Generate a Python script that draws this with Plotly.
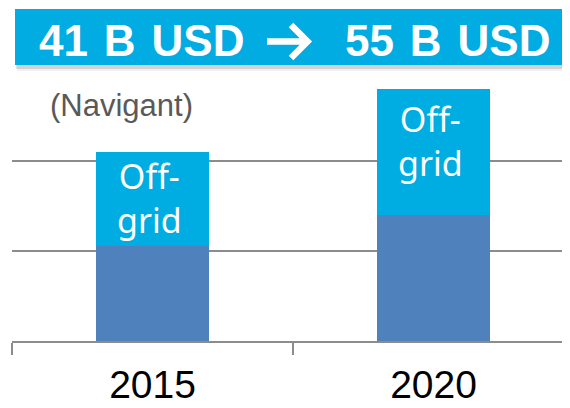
import plotly.graph_objects as go

# ---- data ----
categories = ["2015", "2020"]
grid_connected = [21.1, 28.1]
off_grid = [20.9, 27.8]
off_grid_label = "Off-<br>grid"
banner_left = "41 B USD"
banner_right = "55 B USD"
source_text = "(Navigant)"

W, H = 570, 408
OFF = 8  # page body margin offset of the figure inside the window
ML, MR, MT, MB = 4, 0, 72, 75
PW, PH = W - ML - MR, H - MT - MB


def px(x):  # window pixel -> paper x
    return (x - OFF - ML) / PW


def py(y):  # window pixel -> paper y
    return (H - MB - (y - OFF)) / PH


BLUE_DARK = "#4F81BD"
BLUE_LIGHT = "#00ADE2"
GRID = "#8C8C8C"

fig = go.Figure()
fig.add_trace(go.Bar(
    x=categories, y=grid_connected, marker=dict(color=BLUE_DARK, line=dict(width=0)),
    width=0.4, hoverinfo="skip", showlegend=False,
))
fig.add_trace(go.Bar(
    x=categories, y=off_grid, marker=dict(color=BLUE_LIGHT, line=dict(width=0)),
    width=0.4, hoverinfo="skip", showlegend=False,
))

shapes = [
    dict(type="rect", xref="paper", yref="paper", x0=px(17), x1=px(580), y0=py(71), y1=py(12),
         fillcolor="rgba(0,0,0,0.06)", line=dict(width=0), layer="above"),
    dict(type="rect", xref="paper", yref="paper", x0=px(16), x1=px(580), y0=py(69), y1=py(11),
         fillcolor="rgba(0,0,0,0.12)", line=dict(width=0), layer="above"),
    dict(type="rect", xref="paper", yref="paper", x0=px(15), x1=px(580), y0=py(65), y1=py(9),
         fillcolor="#00ACE2", line=dict(width=0), layer="above"),
    # arrow glyph in the banner
    dict(type="path", xref="paper", yref="paper", layer="above",
         path=(f"M {px(267)},{py(41.5)} L {px(305)},{py(41.5)} "
               f"M {px(291)},{py(25)} L {px(307.5)},{py(41.5)} L {px(291)},{py(58)}"),
         line=dict(color="white", width=6.5)),
]

annotations = [
    dict(text="<b>" + banner_left.replace(" ", " \u200a") + "</b>", xref="paper", yref="paper",
         x=px(37), y=py(40.5), xanchor="left", yanchor="middle", showarrow=False,
         font=dict(family="Liberation Sans", size=44, color="white")),
    dict(text="<b>" + banner_right.replace(" ", " \u200a") + "</b>", xref="paper", yref="paper",
         x=px(552), y=py(40.5), xanchor="right", yanchor="middle", showarrow=False,
         font=dict(family="Liberation Sans", size=44, color="white")),
    dict(text=source_text, xref="paper", yref="paper", x=px(121), y=py(106),
         xanchor="center", yanchor="middle", showarrow=False,
         font=dict(family="Liberation Sans", size=31, color="#595959")),
]

# "Off-grid" labels placed near the top of each off-grid segment
label_shift = [1, -5]
for i, (g, o, s) in enumerate(zip(grid_connected, off_grid, label_shift)):
    annotations.append(dict(
        text=off_grid_label, x=i, y=g + o, xref="x", yref="y",
        xanchor="center", yanchor="top", yshift=s, xshift=-3, showarrow=False,
        font=dict(family="Noto Sans", size=34, color="white")))

fig.update_layout(
    width=W, height=H, margin=dict(l=ML, r=MR, t=MT, b=MB),
    paper_bgcolor="white", plot_bgcolor="white",
    barmode="stack",
    shapes=shapes, annotations=annotations,
    xaxis=dict(type="category", range=[-0.5, -0.5 + PW / 281.0],
               showline=True, linecolor=GRID, linewidth=1.5,
               ticks="outside", tickson="boundaries", ticklen=12, tickcolor=GRID, tickwidth=1.5,
               showgrid=False, zeroline=False, ticklabelstandoff=8,
               tickfont=dict(family="Liberation Sans", size=39, color="black")),
    yaxis=dict(range=[0, PH / 4.5], tickvals=[20, 40], showticklabels=False,
               showgrid=True, gridcolor=GRID, gridwidth=1.5, zeroline=False, showline=False),
)

fig.write_html("out.html")
